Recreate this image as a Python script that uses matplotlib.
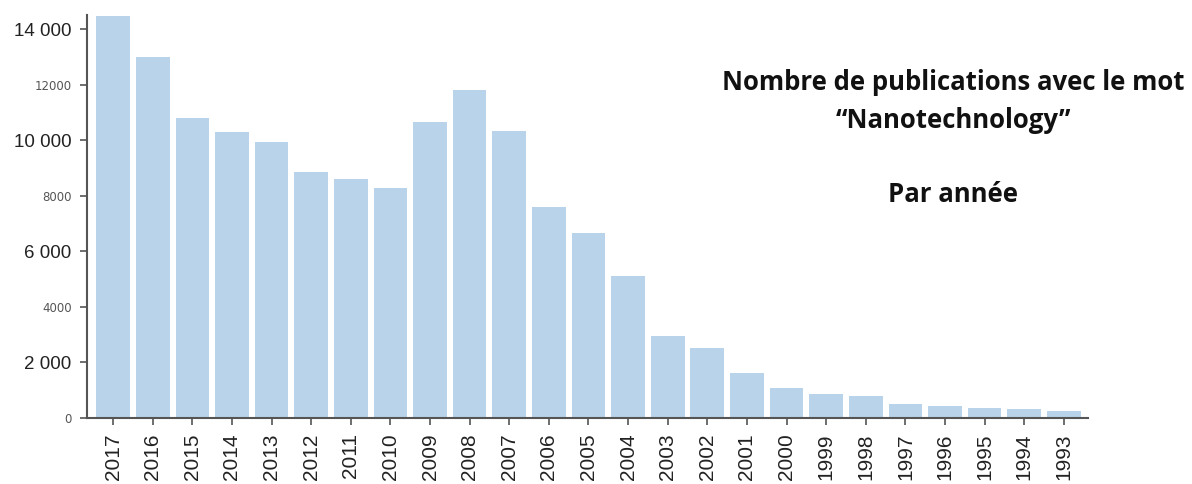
import matplotlib
matplotlib.use("Agg")
import matplotlib.pyplot as plt

years = ["2017", "2016", "2015", "2014", "2013", "2012", "2011", "2010", "2009",
         "2008", "2007", "2006", "2005", "2004", "2003", "2002", "2001", "2000",
         "1999", "1998", "1997", "1996", "1995", "1994", "1993"]
publications = [14500, 13000, 10800, 10300, 9950, 8870, 8600, 8280, 10680,
                11800, 10330, 7620, 6680, 5120, 2970, 2510, 1620, 1070,
                865, 790, 490, 445, 370, 315, 240]
ytick_values = [0, 2000, 4000, 6000, 8000, 10000, 12000, 14000]
ytick_labels = ["0", "2 000", "4000", "6 000", "8000", "10 000", "12000", "14 000"]
ytick_big = [False, True, False, True, False, True, False, True]
title_lines = ["Nombre de publications avec le mot", "\u201cNanotechnology\u201d", "Par ann\u00e9e"]

W, H = 1192, 484
fig = plt.figure(figsize=(W / 100, H / 100), dpi=100)
left, right, bottom, top = 87, 1088, 418, 15
ax = fig.add_axes([left / W, 1 - bottom / H, (right - left) / W, (bottom - top) / H])

x = list(range(len(years)))
ax.bar(x, publications, width=0.85, color="#b9d3ea", zorder=2)
ax.set_xlim(-0.66, len(years) - 1 + 0.61)
ax.set_ylim(0, 14520)

ax.set_xticks(x)
ax.set_xticklabels(years, rotation=90, fontsize=15, family="Liberation Sans", color="#222222")
ax.set_yticks(ytick_values)
ax.set_yticklabels(ytick_labels)
for lab, big in zip(ax.get_yticklabels(), ytick_big):
    if big:
        lab.set_fontsize(13.5)
        lab.set_family("Liberation Sans")
        lab.set_color("#222222")
    else:
        lab.set_fontsize(8.5)
        lab.set_family("DejaVu Sans")
        lab.set_color("#555555")

for s in ["top", "right"]:
    ax.spines[s].set_visible(False)
for s in ["left", "bottom"]:
    ax.spines[s].set_color("#555555")
    ax.spines[s].set_linewidth(1.5)
ax.tick_params(axis="both", direction="out", length=5, width=1.2, color="#555555")
ax.tick_params(axis="x", pad=6)
ax.tick_params(axis="y", pad=6)

cx = 953 / W
title_kw = dict(ha="center", va="center", fontsize=18.5, fontweight="bold",
                family="Open Sans", color="#111111")
fig.text(cx, 1 - 82 / H, title_lines[0], **title_kw)
fig.text(cx, 1 - 120 / H, title_lines[1], **title_kw)
fig.text(cx, 1 - 195 / H, title_lines[2], **title_kw)

fig.savefig("out.png", dpi=100)
